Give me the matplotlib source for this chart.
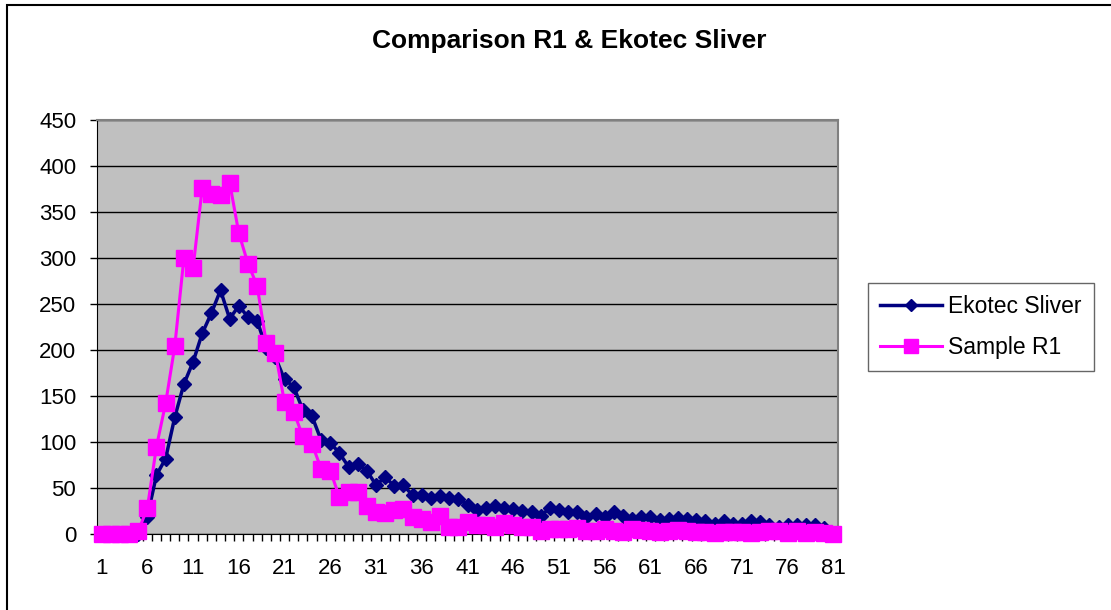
import matplotlib.pyplot as plt
from matplotlib.patches import Rectangle

plt.rcParams['font.family'] = ['Liberation Sans', 'DejaVu Sans']

categories = list(range(1, 82))

ekotec_sliver = [0, 0, 0, 0, 0, 19, 64, 82, 127, 163,
                 187, 218, 240, 265, 234, 248, 236, 232, 202, 192,
                 168, 160, 135, 128, 102, 99, 88, 73, 76, 69,
                 53, 62, 52, 53, 42, 42, 39, 41, 39, 38,
                 32, 26, 28, 30, 28, 27, 25, 24, 20, 28,
                 26, 24, 24, 18, 22, 18, 24, 20, 16, 18,
                 18, 15, 16, 17, 16, 15, 14, 11, 14, 11,
                 11, 14, 13, 10, 8, 10, 10, 10, 10, 7, 0]

sample_r1 = [0, 0, 0, 0, 3, 28, 95, 142, 204, 300,
             289, 376, 370, 368, 382, 327, 294, 270, 208, 197,
             143, 133, 106, 98, 71, 69, 40, 46, 46, 30,
             24, 23, 26, 27, 19, 16, 13, 20, 8, 8,
             13, 10, 10, 8, 12, 10, 8, 8, 3, 5,
             5, 5, 7, 3, 3, 5, 3, 2, 5, 4,
             3, 2, 3, 4, 3, 2, 2, 1, 2, 2,
             2, 1, 2, 3, 3, 1, 3, 1, 2, 1, 0]

fig = plt.figure(figsize=(11.11, 6.10), dpi=100)
ax = fig.add_axes([97 / 1111, 76 / 610, 741 / 1111, 414 / 610])
ax.set_facecolor('#C0C0C0')

ax.plot(categories, ekotec_sliver, color='#000080', marker='D', markersize=7,
        linewidth=2.5, label='Ekotec Sliver', clip_on=False, zorder=3)
ax.plot(categories, sample_r1, color='#FF00FF', marker='s', markersize=11,
        linewidth=2.2, label='Sample R1', clip_on=False, zorder=4)

ax.set_xlim(0.5, 81.5)
ax.set_ylim(0, 450)
ax.set_yticks(range(0, 451, 50))
ax.yaxis.grid(True, color='black', linewidth=1)
ax.set_axisbelow(True)

ax.set_xticks(range(1, 82, 5))
ax.set_xticks([k + 0.5 for k in range(0, 82)], minor=True)
ax.tick_params(axis='x', which='major', length=0, pad=17, labelsize=16)
ax.tick_params(axis='x', which='minor', length=5, width=1, direction='out')
ax.tick_params(axis='y', length=5, width=1, labelsize=16, pad=10)

for side in ['left', 'bottom']:
    ax.spines[side].set_color('black')
for side in ['top', 'right']:
    ax.spines[side].set_color('#808080')
    ax.spines[side].set_linewidth(1.5)

fig.text(569 / 1111, 1 - 41 / 610, 'Comparison R1 & Ekotec Sliver',
         ha='center', va='center', fontsize=19, fontweight='bold')

leg = fig.legend(loc='center', bbox_to_anchor=(981 / 1111, 1 - 327 / 610),
                 fontsize=16.5, frameon=True, fancybox=False, handlelength=2.7,
                 handletextpad=0.25, borderpad=0.55, labelspacing=0.75,
                 markerscale=0.9, borderaxespad=0)
leg.get_frame().set_edgecolor('#404040')
leg.get_frame().set_linewidth(1)

fig.patches.append(Rectangle((7 / 1111, -0.1), 2, 1.1 - 5 / 610,
                             transform=fig.transFigure, fill=False,
                             edgecolor='black', linewidth=1.5))

fig.savefig('out.png', dpi=100)
